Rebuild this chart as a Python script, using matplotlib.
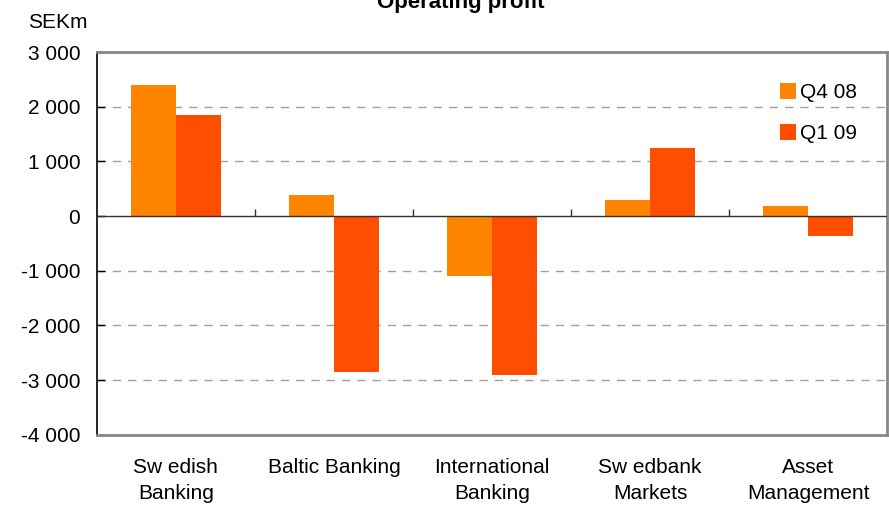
import numpy as np
import matplotlib.pyplot as plt

plt.rcParams['font.family'] = ['Liberation Sans', 'DejaVu Sans']

# data (SEKm)
categories = ['Sw edish\nBanking', 'Baltic Banking', 'International\nBanking',
              'Sw edbank\nMarkets', 'Asset\nManagement']
q4_08 = [2400, 390, -1090, 290, 180]
q1_09 = [1850, -2860, -2900, 1250, -360]
series_names = ['Q4 08', 'Q1 09']
colors = ['#FF8400', '#FF4E00']
yticks = [3000, 2000, 1000, 0, -1000, -2000, -3000, -4000]

fig = plt.figure(figsize=(8.89, 5.05), dpi=100)
ax = fig.add_axes([0.109, 0.139, 0.889, 0.758])

x = np.arange(len(categories))
w = 0.285
ax.bar(x - w / 2, q4_08, w, color=colors[0], label=series_names[0], zorder=3)
ax.bar(x + w / 2, q1_09, w, color=colors[1], label=series_names[1], zorder=3)

ax.set_xlim(-0.5, len(categories) - 0.5)
ax.set_ylim(-4000, 3000)

# dashed grid, no line at zero or the frame
for y in yticks:
    if y not in (0, 3000, -4000):
        ax.axhline(y, color='#a0a0a0', lw=1, ls=(0, (6, 5)), zorder=1)
ax.axhline(0, color='#333333', lw=1, zorder=4)
# small category separators on the zero line
ax.plot(x[1:] - 0.5, [0] * (len(x) - 1), ls='none', marker=2, ms=5,
        mew=1, color='#333333', zorder=4)

ax.set_yticks(yticks)
ax.set_yticklabels(['{:,}'.format(v).replace(',', ' ') for v in yticks], fontsize=15)
ax.tick_params(axis='y', direction='in', length=6, width=1, pad=12, colors='black')
ax.set_xticks(x)
ax.set_xticklabels(categories, fontsize=15, linespacing=1.45, va='top')
ax.tick_params(axis='x', length=0, pad=17)

ax.spines['left'].set_color('black')
ax.spines['left'].set_linewidth(1.2)
for s in ('top', 'right', 'bottom'):
    ax.spines[s].set_color('#888888')
    ax.spines[s].set_linewidth(2)

leg = ax.legend(loc='upper left', bbox_to_anchor=(780 / 889, 1 - 83 / 505),
                bbox_transform=fig.transFigure, frameon=False, fontsize=15,
                handlelength=0.78, handleheight=0.78, handletextpad=0.2,
                labelspacing=1.05, borderpad=0, borderaxespad=0)

fig.text(0.518, 1 - 8 / 505, 'Operating profit', ha='center', va='baseline',
         fontsize=16, fontweight='bold')
fig.text(0.031, 0.955, 'SEKm', ha='left', va='center', fontsize=15)

fig.savefig('out.png', dpi=100)
